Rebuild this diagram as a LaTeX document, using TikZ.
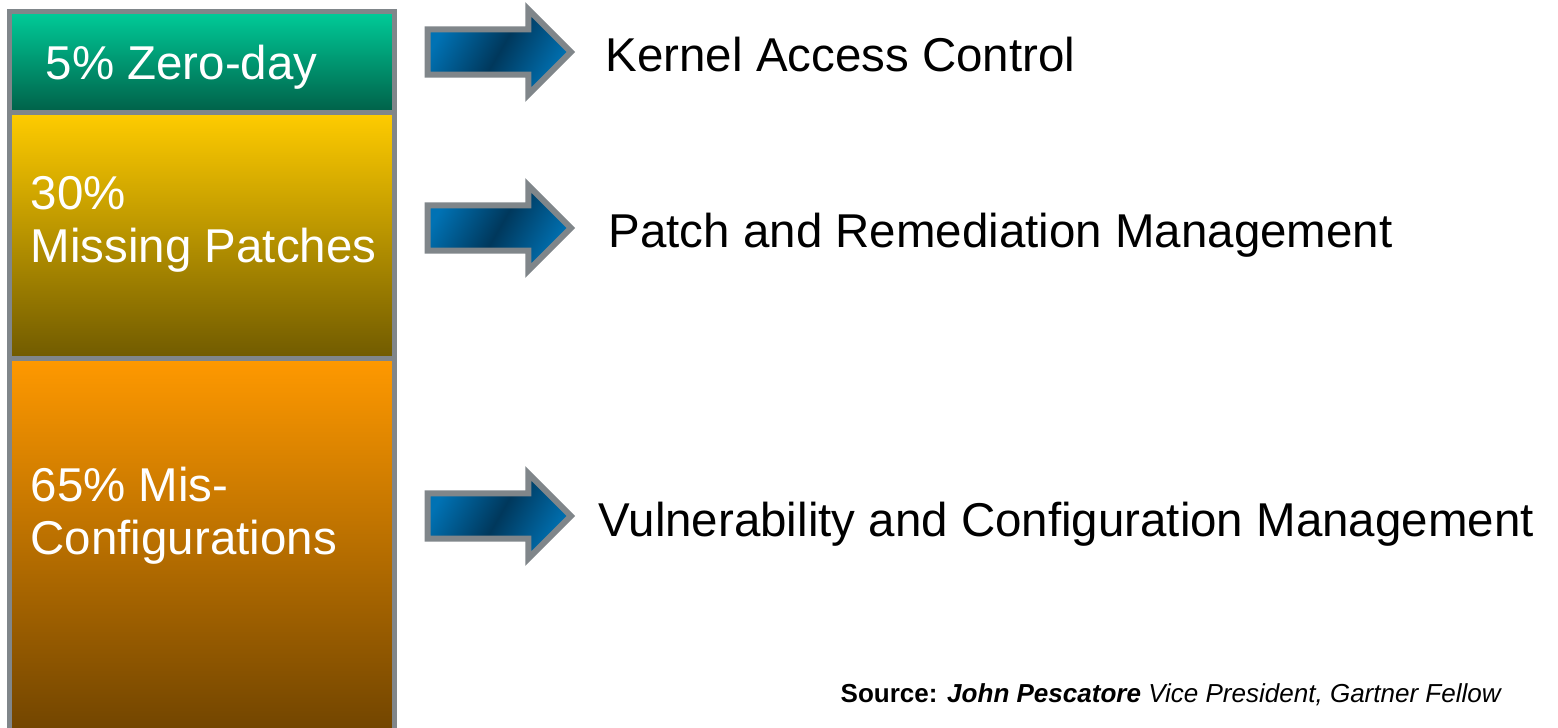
\documentclass[tikz,border=0pt]{standalone}
\usepackage{fontspec}
\setmainfont{Liberation Sans}
\usepackage{tikz}
\usetikzlibrary{positioning,shapes.arrows}
\tikzstyle{chart} = [x = .01cm, y = -.01cm]
\definecolor{borderColor}{RGB}{128,134,138}
\definecolor{zeroTop}{RGB}{0,204,153}
\definecolor{zeroBottom}{RGB}{0,96,72}
\definecolor{patchTop}{RGB}{255,204,0}
\definecolor{patchBottom}{RGB}{112,90,0}
\definecolor{configTop}{RGB}{255,153,0}
\definecolor{configBottom}{RGB}{112,68,0}
\definecolor{arrowLight}{RGB}{0,114,180}
\definecolor{arrowDark}{RGB}{0,56,92}
\tikzstyle{barStyle} = [draw=borderColor, line width=.05cm, inner sep=0, outer sep=0, minimum width=3.85cm]
\tikzstyle{barText} = [font=\fontsize{13.5}{15.1}\selectfont, text=white, anchor=base west, inner sep=0, align=left]
\tikzstyle{fixText} = [font=\fontsize{13.5}{15.1}\selectfont, anchor=base west, inner sep=0]
\tikzstyle{arrowStyle} = [single arrow, draw=borderColor, line width=.06cm, inner xsep=0, inner ysep=.195cm,
  minimum height=1.43cm, single arrow head extend=.2cm,
  left color=arrowLight, right color=arrowLight, middle color=arrowDark, shading angle=60]
\newcommand{\shareBar}[5]{\node [barStyle, top color=#4, bottom color=#5, minimum height=#3cm] (#1) at (202, #2) {};}
\newcommand{\fixArrow}[2]{\node [arrowStyle] (#1) at (488, #2) {};}

\begin{document}
\begin{tikzpicture}[chart]
  \useasboundingbox (0,0) rectangle (1558,728);
  \shareBar{zeroDay}{62}{1.01}{zeroTop}{zeroBottom}
  \shareBar{missingPatches}{235.75}{2.465}{patchTop}{patchBottom}
  \shareBar{misConfig}{547}{3.76}{configTop}{configBottom}
  \node [barText] (zeroDayText) at (45, 80) {5\% Zero-day};
  \node [barText, anchor=north west] (missingPatchesText) at (30, 176) {30\%\\Missing Patches};
  \node [barText, anchor=north west] (misConfigText) at (30, 466) {65\% Mis-\\Configurations};

  \fixArrow{kernelArrow}{52}
  \fixArrow{patchArrow}{228}
  \fixArrow{configArrow}{516}
  \node [fixText] (kernelText) at (605, 72) {Kernel Access Control};
  \node [fixText] (patchText) at (608, 248) {Patch and Remediation Management};
  \node [fixText] (configText) at (598, 537) {Vulnerability and Configuration Management};

  \node [anchor=base west, inner sep=0, font=\fontsize{7.4}{9}\selectfont] (source) at (840, 702)
    {\textbf{Source:} \textbf{\textit{John Pescatore}} \textit{Vice President, Gartner Fellow}};
\end{tikzpicture}
\end{document}
